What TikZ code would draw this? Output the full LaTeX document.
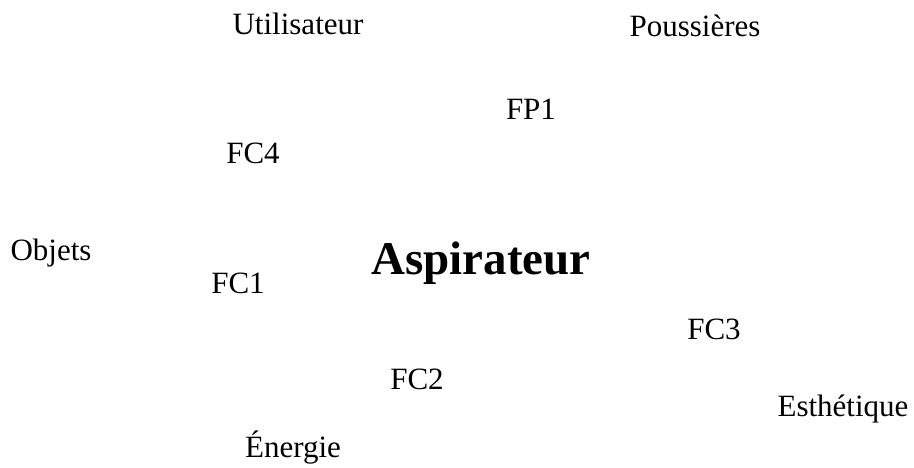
\documentclass[tikz,border=0pt]{standalone}
\usepackage{fontspec}
\setmainfont{Liberation Serif}
\begin{document}
\begin{tikzpicture}[x=1pt,y=-1pt,
  ext/.style={anchor=base,inner sep=0pt,font=\fontsize{31}{31}\selectfont},
  fn/.style={anchor=base,inner sep=0pt,font=\fontsize{31}{31}\selectfont},
  main/.style={anchor=base,inner sep=0pt,font=\bfseries\fontsize{47}{47}\selectfont}]
\useasboundingbox (0,0) rectangle (914,468);
\node[ext] (util) at (298,35) {Utilisateur};
\node[ext] (pous) at (695,37) {Poussières};
\node[fn] (fp1) at (531,120) {FP1};
\node[fn] (fc4) at (253,164) {FC4};
\node[ext] (obj) at (51,261) {Objets};
\node[fn] (fc1) at (238,294) {FC1};
\node[main] (asp) at (481,275) {Aspirateur};
\node[fn] (fc3) at (714,339) {FC3};
\node[fn] (fc2) at (417,389) {FC2};
\node[ext] (esth) at (843,416) {Esthétique};
\node[ext] (ener) at (293,457) {Énergie};
\end{tikzpicture}
\end{document}
